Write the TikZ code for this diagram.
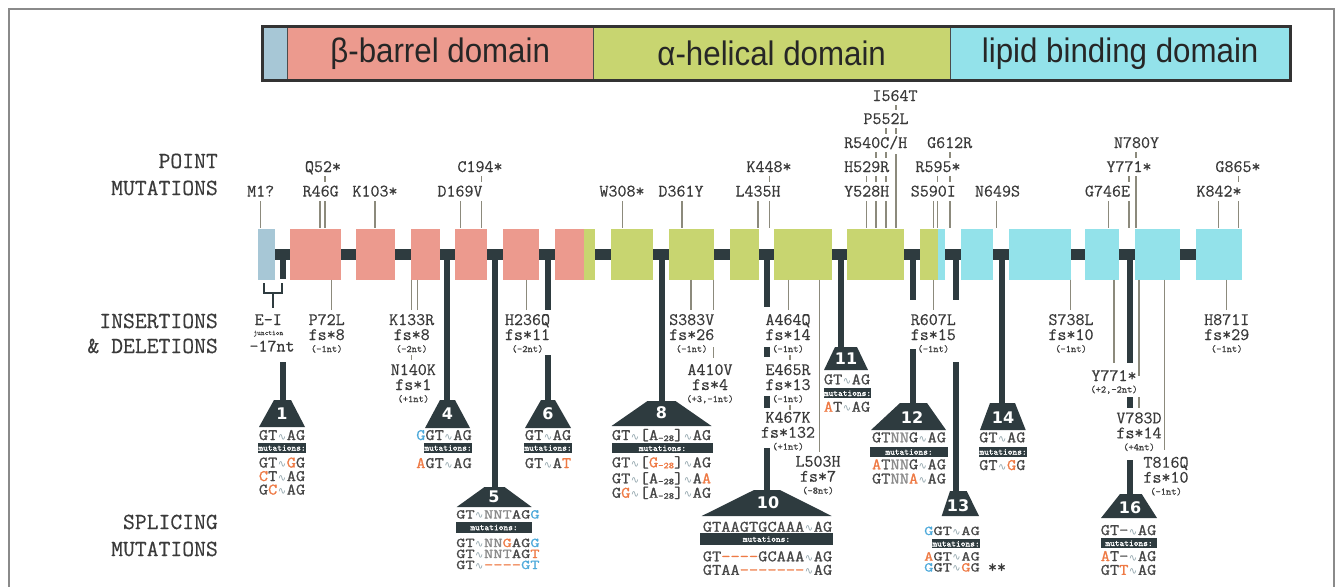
\documentclass[tikz,border=0pt]{standalone}
\usepackage{fontspec}
\setmainfont{Liberation Sans}
\newfontfamily\labf[FakeBold=0.4]{Latin Modern Mono}
\newfontfamily\seqf[FakeStretch=1.12,FakeBold=1.2]{Latin Modern Mono}
\newfontfamily\seqwf[FakeStretch=1.34,FakeBold=1.2]{Latin Modern Mono}
\newfontfamily\barf[FakeBold=1.5]{Latin Modern Mono}
\newfontfamily\domf[FakeStretch=0.92]{Liberation Sans}
\newfontfamily\numf{DejaVu Sans}
\newfontfamily\wavef{DejaVu Sans}

\definecolor{exblue}{HTML}{A7C7D6}
\definecolor{expink}{HTML}{EC9A8E}
\definecolor{exgreen}{HTML}{C8D570}
\definecolor{excyan}{HTML}{93E2EA}
\definecolor{slate}{HTML}{2E3B3F}
\definecolor{txt}{HTML}{3A3A3A}
\definecolor{thin}{HTML}{8C8A7C}
\definecolor{orng}{HTML}{EE7A45}
\definecolor{sky}{HTML}{4DA9DA}
\definecolor{nn}{HTML}{8A8A8A}
\definecolor{seq}{HTML}{474747}
\definecolor{wave}{HTML}{8FA3AA}
\definecolor{framec}{HTML}{8A8A8A}

% sequence helpers
\newcommand\wv{\makebox[9.4pt]{\textcolor{wave}{\wavef\fontsize{10}{10}\selectfont ∿}}}
\newcommand\orn[1]{\textcolor{orng}{#1}}
\newcommand\blu[1]{\textcolor{sky}{#1}}
\newcommand\gry[1]{\textcolor{nn}{#1}}
\newcommand\subn[1]{\raisebox{-1pt}{\fontsize{9}{9}\selectfont #1}}

% an insertion/deletion label: name, x, baseline, mutation, frameshift, size change
\newcommand\indel[6]{%
  \node[lab] (#1) at (#2,#3) {#4};
  \node[lab] (#1f) at (#2,{#3+15}) {#5};
  \node[sm] (#1n) at (#2,{#3+27}) {#6};}

\begin{document}
\begin{tikzpicture}[x=1pt,y=-1pt,
  lab/.style={font=\labf\fontsize{17.5}{17.5}\selectfont, text=txt, inner sep=0pt, anchor=base},
  sm/.style={font=\labf\fontsize{10}{10}\selectfont, text=txt, inner sep=0pt, anchor=base},
  head/.style={font=\labf\fontsize{23}{23}\selectfont, text=txt, inner sep=0pt, anchor=base east},
  pm/.style={draw=thin, line width=1.4pt},
  conn/.style={draw=slate, line width=6pt},
  exon/.style={minimum height=51pt, inner sep=0pt, outer sep=0pt, anchor=west},
  seqs/.style={font=\seqf\fontsize{16}{16}\selectfont, text=seq, inner sep=0pt, anchor=base},
  seqsm/.style={font=\seqwf\fontsize{13.4}{13.4}\selectfont, text=seq, inner sep=0pt, anchor=base},
  mbar/.style={fill=slate, text=white, font=\barf\fontsize{9}{9}\selectfont, inner sep=0pt, minimum height=10pt},
  num/.style={text=white, font=\numf\bfseries\fontsize{16}{16}\selectfont, inner sep=0pt},
  dom/.style={font=\domf\fontsize{34}{34}\selectfont, text=black!85, inner sep=0pt, minimum height=53pt, anchor=north west}]

\useasboundingbox (0,0) rectangle (1343,586);
\draw[framec, line width=1.5pt] (9,590) -- (9,9) -- (1334,9) -- (1334,590);

% ---------- domain bar ----------
\fill[exblue] (262,27) rectangle (287,80);
\node[dom, fill=expink, minimum width=306pt] (dbeta) at (287,27) {β-barrel domain};
\node[dom, fill=exgreen, minimum width=357pt] (dalpha) at (593,27) {α-helical domain};
\node[dom, fill=excyan, minimum width=340pt] (dlipid) at (950,27) {lipid binding domain};
\draw[black!70, line width=1pt] (287,27) -- (287,80) (593,27) -- (593,80) (950,27) -- (950,80);
\draw[black!80, line width=3pt] (262,27) rectangle (1290,80);

% ---------- row headings ----------
\node[head] (hp1) at (218,168) {POINT};
\node[head] (hp2) at (218,195) {MUTATIONS};
\node[head] (hi1) at (218,328) {INSERTIONS};
\node[head] (hi2) at (218,353) {\& DELETIONS};
\node[head] (hs1) at (218,529) {SPLICING};
\node[head] (hs2) at (218,556) {MUTATIONS};

% ---------- splice connectors (under the gene) ----------
\coordinate (s1) at (282.5,254);  \coordinate (t1) at (282.5,400);
\coordinate (s4) at (447,254);    \coordinate (t4) at (447,400);
\coordinate (s5) at (494.5,254);  \coordinate (t5) at (494.5,487);
\coordinate (s6) at (548,254);    \coordinate (t6) at (548,400);
\coordinate (s8) at (661.5,254);  \coordinate (t8) at (661.5,401);
\coordinate (s10) at (767,254);   \coordinate (t10) at (767,490);
\coordinate (s11) at (840.5,254); \coordinate (t11) at (840.5,347);
\coordinate (s12) at (913,254);   \coordinate (t12) at (913,403);
\coordinate (s13) at (955.5,254); \coordinate (t13) at (955.5,491);
\coordinate (s14) at (1001.5,254);\coordinate (t14) at (1001.5,403);
\coordinate (s16) at (1129.5,254);\coordinate (t16) at (1129.5,494);

\draw[conn] (s1) -- (282.5,279) (282.5,362) -- (t1);
\draw[conn] (s4) -- (t4);
\draw[conn] (s5) -- (t5);
\draw[conn] (s6) -- (548,310) (548,355) -- (t6);
\draw[conn] (s8) -- (t8);
\draw[conn] (s10) -- (767,307) (767,347) -- (767,357) (767,396) -- (767,408) (767,448) -- (t10);
\draw[conn] (s11) -- (t11);
\draw[conn] (s12) -- (913,300) (913,349) -- (t12);
\draw[conn] (s13) -- (955.5,300) (955.5,362) -- (t13);
\draw[conn] (s14) -- (t14);
\draw[conn] (s16) -- (1129.5,363) (1129.5,397) -- (1129.5,408) (1129.5,460) -- (t16);

% ---------- gene: intron backbone and exons ----------
\fill[slate] (266,248.5) rectangle (1240,259.5);
\node[exon, fill=exblue,  minimum width=16.7pt] (e1)  at (258.3,254) {};
\node[exon, fill=expink,  minimum width=50.7pt] (e2)  at (290,254) {};
\node[exon, fill=expink,  minimum width=39pt]   (e3)  at (356,254) {};
\node[exon, fill=expink,  minimum width=29.3pt] (e4)  at (410.7,254) {};
\node[exon, fill=expink,  minimum width=31.7pt] (e5)  at (455,254) {};
\node[exon, fill=expink,  minimum width=36.3pt] (e6)  at (502.7,254) {};
\node[exon, fill=expink,  minimum width=29.3pt] (e7)  at (554.7,254) {};
\node[exon, fill=exgreen, minimum width=11pt]   (e7b) at (584,254) {};
\node[exon, fill=exgreen, minimum width=42.3pt] (e8)  at (611,254) {};
\node[exon, fill=exgreen, minimum width=45.3pt] (e9)  at (669,254) {};
\node[exon, fill=exgreen, minimum width=29.3pt] (e10) at (729.7,254) {};
\node[exon, fill=exgreen, minimum width=57.7pt] (e11) at (774.3,254) {};
\node[exon, fill=exgreen, minimum width=56.7pt] (e12) at (847.3,254) {};
\node[exon, fill=exgreen, minimum width=17.7pt] (e13) at (920,254) {};
\node[exon, fill=excyan,  minimum width=7.6pt]  (e13b) at (937.7,254) {};
\node[exon, fill=excyan,  minimum width=31.7pt] (e14) at (961,254) {};
\node[exon, fill=excyan,  minimum width=61.4pt] (e15) at (1009.3,254) {};
\node[exon, fill=excyan,  minimum width=34pt]   (e16) at (1085,254) {};
\node[exon, fill=excyan,  minimum width=45.3pt] (e17) at (1135,254) {};
\node[exon, fill=excyan,  minimum width=46.3pt] (e18) at (1196,254) {};

% ---------- point mutations ----------
\foreach \x in {260.7,320,325,375,460.7,481.7,622.7,682,758,769.3,866.7,876,886,933.3,937.7,950,996.7,1108.3,1129,1218.3,1238.3}
  \draw[pm] (\x,201) -- (\x,228.3);
\draw[pm] (896,154) -- (896,228.3);
\draw[pm] (1136,176) -- (1136,228.3);
\foreach \x in {325,481.7,769.3,866.7,876,886,937.7,950,1129,1238.3}
  \draw[pm] (\x,176) -- (\x,182);
\foreach \x in {876,886,950,1136}
  \draw[pm] (\x,152) -- (\x,158);
\foreach \x in {886,896}
  \draw[pm] (\x,128) -- (\x,134);
\draw[pm] (896,105) -- (896,110);

\node[lab] (m1q)  at (260.7,196.5) {M1?};
\node[lab] (r46)  at (320.7,196.5) {R46G};
\node[lab] (q52)  at (323,172) {Q52*};
\node[lab] (k103) at (375,196.5) {K103*};
\node[lab] (d169) at (460,196.5) {D169V};
\node[lab] (c194) at (480,172) {C194*};
\node[lab] (w308) at (622,196.5) {W308*};
\node[lab] (d361) at (681,196.5) {D361Y};
\node[lab] (l435) at (758,196.5) {L435H};
\node[lab] (k448) at (769,172) {K448*};
\node[lab] (y528) at (866.7,196.5) {Y528H};
\node[lab] (h529) at (866.7,172) {H529R};
\node[lab] (r540) at (875.7,148) {R540C/H};
\node[lab] (p552) at (886,124) {P552L};
\node[lab] (i564) at (895,101) {I564T};
\node[lab] (s590) at (933.3,196.5) {S590I};
\node[lab] (r595) at (938,172) {R595*};
\node[lab] (g612) at (949.7,148) {G612R};
\node[lab] (n649) at (997.5,196.5) {N649S};
\node[lab] (g746) at (1107.5,196.5) {G746E};
\node[lab] (y771p) at (1129,172) {Y771*};
\node[lab] (n780) at (1136.5,148) {N780Y};
\node[lab] (k842) at (1219,196.5) {K842*};
\node[lab] (g865) at (1238,172) {G865*};

% ---------- insertions & deletions ----------
\foreach \x in {331.7,411.7,417.3,526.7,691,713.3,788.3,933.3,1070.7,1226.7}
  \draw[pm] (\x,279.5) -- (\x,310);
\draw[pm] (819.3,279.5) -- (819.3,452);
\draw[pm] (1114,279.5) -- (1114,363);
\draw[pm] (1139,279.5) -- (1139,376) (1139,397) -- (1139,408);
\draw[pm] (1164.3,279.5) -- (1164.3,450);
\draw[pm] (411.7,355) -- (411.7,360);
\draw[pm] (713.3,347) -- (713.3,358);
\draw[pm] (790,355) -- (790,360) (790,405) -- (790,409.5);

% exon-intron junction bracket
\draw[slate, line width=2pt] (264,283) -- (264,293) -- (281.7,293) -- (281.7,283);
\draw[slate, line width=2pt] (272.8,293) -- (272.8,308);
\node[lab] (ei) at (268.3,325) {E-I};
\node[font=\labf\fontsize{7}{7}\selectfont, text=txt, inner sep=0pt, anchor=base] (eij) at (268.3,335) {junction};
\node[lab] (ei17) at (272,351.5) {-17nt};

\indel{p72}{326.7}{325}{P72L}{fs*8}{(-1nt)}
\indel{k133}{411.7}{325}{K133R}{fs*8}{(-2nt)}
\indel{n140}{413.3}{375}{N140K}{fs*1}{(+1nt)}
\indel{h236}{527.5}{325}{H236Q}{fs*11}{(-2nt)}
\indel{s383}{691.7}{325}{S383V}{fs*26}{(-1nt)}
\indel{a410}{710}{375}{A410V}{fs*4}{(+3,-1nt)}
\indel{a464}{788}{325}{A464Q}{fs*14}{(-1nt)}
\indel{e465}{788}{375}{E465R}{fs*13}{(-1nt)}
\indel{k467}{788}{422.7}{K467K}{fs*132}{(+1nt)}
\indel{l503}{818}{466.7}{L503H}{fs*7}{(-8nt)}
\indel{r607}{933.3}{325}{R607L}{fs*15}{(-1nt)}
\indel{s738}{1071}{325}{S738L}{fs*10}{(-1nt)}
\node[lab] (y771i) at (1114,381) {Y771*};
\node[sm] (y771n) at (1114,392.5) {(+2,-2nt)};
\indel{v783}{1139}{423.3}{V783D}{fs*14}{(+4nt)}
\indel{t816}{1166}{467.7}{T816Q}{fs*10}{(-1nt)}
\indel{h871}{1226.7}{325}{H871I}{fs*29}{(-1nt)}

% ---------- splicing mutation boxes ----------
% 1
\fill[slate] (274,400) -- (291,400) -- (305,427) -- (259,427) -- cycle;
\node[num] (n1) at (282,414) {1};
\node[seqs] (b1a) at (282,440) {GT\wv AG};
\node[mbar, minimum width=48pt] (m1) at (282,448) {mutations:};
\node[seqs] (b1b) at (282,467.5) {GT\wv\orn{G}G};
\node[seqs] (b1c) at (282,481) {\orn{C}T\wv AG};
\node[seqs] (b1d) at (282,494.5) {G\orn{C}\wv AG};
% 4
\fill[slate] (440,400) -- (455,400) -- (470,428) -- (425,428) -- cycle;
\node[num] (n4) at (447.5,414) {4};
\node[seqs, anchor=base east] (b4a) at (472,440) {\blu{G}GT\wv AG};
\node[mbar, minimum width=48pt] (m4) at (448,448) {mutations:};
\node[seqs, anchor=base east] (b4b) at (472,468) {\orn{A}GT\wv AG};
% 6
\fill[slate] (541,400) -- (555,400) -- (571,428) -- (525,428) -- cycle;
\node[num] (n6) at (548,414) {6};
\node[seqs] (b6a) at (548,440) {GT\wv AG};
\node[mbar, minimum width=46pt] (m6) at (548,448) {mutations:};
\node[seqs] (b6b) at (548,468) {GT\wv A\orn{T}};
% 5
\fill[slate] (484.5,487) -- (504.5,487) -- (531.7,507) -- (456.7,507) -- cycle;
\node[num] (n5) at (494,497) {5};
\node[seqsm, anchor=base west] (b5a) at (456,518.5) {GT\wv\gry{NNT}AG\blu{G}};
\node[mbar, minimum width=75.7pt, minimum height=11pt] (m5) at (494,527.5) {mutations:};
\node[seqsm, anchor=base west] (b5b) at (456,547) {GT\wv\gry{NN}\orn{G}AG\blu{G}};
\node[seqsm, anchor=base west] (b5c) at (456,558) {GT\wv\gry{NNT}AG\orn{T}};
\node[seqsm, anchor=base west] (b5d) at (456,569) {GT\wv\orn{----}\blu{GT}};
% 8
\fill[slate] (647.5,401) -- (675.5,401) -- (711.5,426) -- (611.5,426) -- cycle;
\node[num] (n8) at (661.5,413) {8};
\node[seqs] (b8a) at (661.5,440) {GT\wv[A\subn{-28}]\wv AG};
\node[mbar, minimum width=101pt] (m8) at (662.5,448.3) {mutations:};
\node[seqs] (b8b) at (661.5,467.3) {GT\wv[\orn{G\subn{-28}}]\wv AG};
\node[seqs] (b8c) at (661.5,483.3) {GT\wv[A\subn{-28}]\wv A\orn{A}};
\node[seqs] (b8d) at (661.5,497.7) {G\orn{G}\wv[A\subn{-28}]\wv AG};
% 10
\fill[slate] (754,490) -- (780,490) -- (831.7,516) -- (701.7,516) -- cycle;
\node[num] (n10) at (768,503) {10};
\node[seqs] (b10a) at (767.5,531.7) {GTAAGTGCAAA\wv AG};
\node[mbar, minimum width=133pt, minimum height=11.7pt] (m10) at (766.5,539.2) {mutations:};
\node[seqs] (b10b) at (767.5,561.3) {GT\orn{----}GCAAA\wv AG};
\node[seqs] (b10c) at (767.5,574.8) {GTAA\orn{-------}\wv AG};
% 11
\fill[slate] (835,347) -- (857,347) -- (868,370) -- (824,370) -- cycle;
\node[num] (n11) at (846,358.5) {11};
\node[seqs] (b11a) at (847,384.3) {GT\wv AG};
\node[mbar, minimum width=47pt] (m11) at (847.5,393.3) {mutations:};
\node[seqs] (b11b) at (847,411.7) {\orn{A}T\wv AG};
% 12
\fill[slate] (900,403) -- (927,403) -- (946,430) -- (871,430) -- cycle;
\node[num] (n12) at (912,418) {12};
\node[seqs] (b12a) at (909,442.3) {GT\gry{NN}G\wv AG};
\node[mbar, minimum width=78pt, minimum height=10.6pt] (m12) at (909,452) {mutations:};
\node[seqs] (b12b) at (909,469.3) {\orn{A}T\gry{NN}G\wv AG};
\node[seqs] (b12c) at (909,483.5) {GT\gry{NN}\orn{A}\wv AG};
% 14
\fill[slate] (990,403) -- (1015,403) -- (1025.7,430) -- (980,430) -- cycle;
\node[num] (n14) at (1003,418) {14};
\node[seqs] (b14a) at (1002.3,442.3) {GT\wv AG};
\node[mbar, minimum width=46pt, minimum height=10.6pt] (m14) at (1003,452) {mutations:};
\node[seqs] (b14b) at (1002.3,470) {GT\wv\orn{G}G};
% 13
\fill[slate] (950,491) -- (966.7,491) -- (979,516) -- (941.7,516) -- cycle;
\node[num] (n13) at (958,506) {13};
\node[seqsm, anchor=base east] (b13a) at (980,535) {\blu{G}GT\wv AG};
\node[mbar, minimum width=48.3pt, minimum height=9pt] (m13) at (956,543.8) {mutations:};
\node[seqsm, anchor=base east] (b13b) at (980,560.5) {\orn{A}GT\wv AG};
\node[seqsm, anchor=base east] (b13c) at (980,571.5) {\blu{G}GT\wv\orn{G}G};
\node[lab, anchor=center] (b13s) at (997,568) {**};
% 16
\fill[slate] (1120,494) -- (1141.7,494) -- (1157,518) -- (1101,518) -- cycle;
\node[num] (n16) at (1130,508) {16};
\node[seqs] (b16a) at (1128.5,535) {GT-\wv AG};
\node[mbar, minimum width=56pt] (m16) at (1129,543.3) {mutations:};
\node[seqs] (b16b) at (1128.5,561) {\orn{A}T-\wv AG};
\node[seqs] (b16c) at (1128.5,574.8) {GT\orn{T}\wv AG};

\end{tikzpicture}
\end{document}
